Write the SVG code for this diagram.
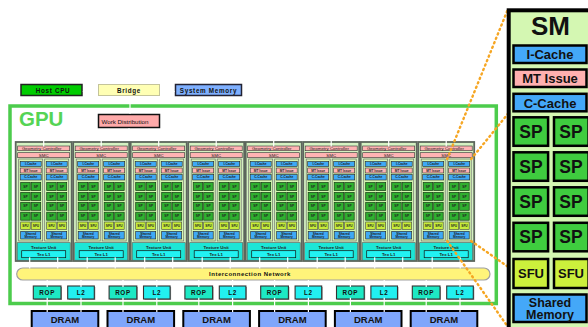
<svg xmlns="http://www.w3.org/2000/svg" xmlns:xlink="http://www.w3.org/1999/xlink" width="588" height="327" viewBox="0 0 588 327">
  <style>
    text { font-family: "Liberation Sans", Arial, sans-serif; }
    .tpc { fill: #d5f2c2; stroke: #5c665c; stroke-width: 1.8; }
    .pk { fill: #ffb3b3; stroke: #333; stroke-width: 0.6; }
    .smbg { fill: #d3f6b0; stroke: #6d6d6d; stroke-width: 0.7; }
    .bl { fill: #3fa9f5; stroke: #222; stroke-width: 0.6; }
    .sp { fill: #2fb02f; stroke: #163a16; stroke-width: 0.7; }
    .sfu { fill: #c6ec3a; stroke: #444; stroke-width: 0.6; }
    .tex { fill: #1de6d6; stroke: #555; stroke-width: 0.6; }
    .texl1 { fill: #22f2f2; stroke: #111; stroke-width: 0.7; }
    .t4 { font-size: 4.4px; text-anchor: middle; fill: #222; }
    .t3 { font-size: 3.2px; font-weight: bold; text-anchor: middle; fill: #222; }
    .tb { font-weight: bold; }
    .wire { stroke: #fff; stroke-width: 1.2; fill: none; }
    .zoomline { stroke: #f6a623; stroke-width: 2.4; stroke-linecap: round; stroke-dasharray: 1.2 3.6; fill: none; }
    .big { stroke: #000; stroke-width: 2.5; }
    .bt { font-weight: bold; text-anchor: middle; fill: #111; }
    .rop { fill: #1de9c4; stroke: #333; stroke-width: 1.1; }
    .l2 { fill: #22f0f0; stroke: #333; stroke-width: 1.1; }
    .shadow { fill: #9a9a9a; }
    .dram { fill: #7fa6fb; stroke: #000; stroke-width: 2; }
    .small { font-size: 6.3px; font-weight: bold; text-anchor: middle; letter-spacing: 0.7px; fill: #111; }
  </style>
  <defs>
    <!-- one streaming multiprocessor, miniature -->
    <g id="sm-mini">
      <rect class="smbg" x="0" y="0" width="24" height="82"/>
      <rect class="bl" x="1.5" y="2.5" width="21" height="5"/>
      <text class="t3" x="12" y="6.1">I-Cache</text>
      <rect class="pk" x="1.5" y="9" width="21" height="5"/>
      <text class="t3" x="12" y="12.6">MT Issue</text>
      <rect class="bl" x="1.5" y="15.5" width="21" height="5.5"/>
      <text class="t3" x="12" y="19.3">C-Cache</text>
      <rect class="sp" x="2" y="23.5" width="9.5" height="8"/>
      <rect class="sp" x="12.5" y="23.5" width="9.5" height="8"/>
      <rect class="sp" x="2" y="33.4" width="9.5" height="8"/>
      <rect class="sp" x="12.5" y="33.4" width="9.5" height="8"/>
      <rect class="sp" x="2" y="43.3" width="9.5" height="8"/>
      <rect class="sp" x="12.5" y="43.3" width="9.5" height="8"/>
      <rect class="sp" x="2" y="53.2" width="9.5" height="8"/>
      <rect class="sp" x="12.5" y="53.2" width="9.5" height="8"/>
      <text class="t3" x="6.75" y="28.6">SP</text>
      <text class="t3" x="17.25" y="28.6">SP</text>
      <text class="t3" x="6.75" y="38.5">SP</text>
      <text class="t3" x="17.25" y="38.5">SP</text>
      <text class="t3" x="6.75" y="48.4">SP</text>
      <text class="t3" x="17.25" y="48.4">SP</text>
      <text class="t3" x="6.75" y="58.3">SP</text>
      <text class="t3" x="17.25" y="58.3">SP</text>
      <rect class="sfu" x="2" y="63" width="9.5" height="7.5"/>
      <rect class="sfu" x="12.5" y="63" width="9.5" height="7.5"/>
      <text class="t3" x="6.75" y="67.8">SFU</text>
      <text class="t3" x="17.25" y="67.8">SFU</text>
      <rect class="bl" x="2" y="72.3" width="20" height="7.7"/>
      <text class="t3" x="12" y="75.8">Shared</text>
      <text class="t3" x="12" y="78.9">Memory</text>
    </g>
    <!-- texture/processor cluster -->
    <g id="tpc-block">
      <rect class="tpc" x="0" y="0" width="56" height="119"/>
      <rect class="pk" x="2" y="4" width="52" height="4.7"/>
      <text class="t4" x="26" y="7.8">Geometry Controller</text>
      <rect class="pk" x="2" y="10.7" width="52" height="5"/>
      <text class="t4" x="28" y="14.6">SMC</text>
      <use xlink:href="#sm-mini" x="3" y="17"/>
      <use xlink:href="#sm-mini" x="29" y="17"/>
      <rect class="tex" x="1.5" y="100.7" width="53" height="17.5"/>
      <text class="t4 tb" x="28" y="106.6">Texture Unit</text>
      <rect class="texl1" x="6" y="108.7" width="44" height="7"/>
      <text class="t4 tb" x="28" y="113.6">Tex L1</text>
    </g>
  </defs>

  <rect x="0" y="0" width="588" height="327" fill="#fff"/>

  <!-- host side -->
  <g id="host-cpu">
    <rect x="21" y="84.5" width="61" height="11" fill="#00cc00" stroke="#222" stroke-width="1.5"/>
    <text class="small" x="53" y="92.7">Host CPU</text>
  </g>
  <g id="bridge">
    <rect x="98.5" y="84.5" width="61" height="11" fill="#ffffb4" stroke="#c4c49a" stroke-width="1"/>
    <text class="small" x="129" y="92.7">Bridge</text>
  </g>
  <g id="system-memory">
    <rect x="175.5" y="84.5" width="66" height="11" fill="#7fb0ff" stroke="#223" stroke-width="1.5"/>
    <text class="small" x="208.5" y="92.7">System Memory</text>
  </g>

  <!-- GPU frame -->
  <g id="gpu">
    <rect x="10" y="106" width="486.3" height="197.5" fill="none" stroke="#4ccc4c" stroke-width="3.5"/>
    <text x="19" y="125.5" font-size="20.5" font-weight="bold" fill="#55d455">GPU</text>
  </g>

  <g id="work-distribution">
    <rect x="98.5" y="114.5" width="61" height="13" fill="#ffaaaa" stroke="#111" stroke-width="1.5"/>
    <text x="101.5" y="124.2" font-size="6.2" fill="#111">Work Distribution</text>
  </g>

  <!-- eight clusters -->
  <g id="tpc1"><use xlink:href="#tpc-block" x="15.7" y="142"/></g>
  <g id="tpc2"><use xlink:href="#tpc-block" x="73.2" y="142"/></g>
  <g id="tpc3"><use xlink:href="#tpc-block" x="130.7" y="142"/></g>
  <g id="tpc4"><use xlink:href="#tpc-block" x="188.2" y="142"/></g>
  <g id="tpc5"><use xlink:href="#tpc-block" x="245.7" y="142"/></g>
  <g id="tpc6"><use xlink:href="#tpc-block" x="303.2" y="142"/></g>
  <g id="tpc7"><use xlink:href="#tpc-block" x="360.7" y="142"/></g>
  <g id="tpc8"><use xlink:href="#tpc-block" x="418.2" y="142"/></g>

  <g id="interconnect">
    <rect x="16.7" y="268" width="473.3" height="12" rx="6" fill="#fff47a" stroke="#a0a0a0" stroke-width="1.2"/>
    <text x="250" y="276.3" font-size="6" font-weight="bold" text-anchor="middle" letter-spacing="0.5" fill="#111">Interconnection Network</text>
  </g>

  <!-- memory partitions -->
  <g id="partition1">
    <rect class="shadow" x="34.3" y="287" width="27.7" height="13"/><rect class="rop" x="33.3" y="286" width="27.7" height="13"/>
    <text class="small" x="47.2" y="294.8">ROP</text>
    <rect class="shadow" x="68.7" y="287" width="26.6" height="13"/><rect class="l2" x="67.7" y="286" width="26.6" height="13"/>
    <text class="small" x="81" y="294.8">L2</text>
  </g>
  <g id="partition2">
    <rect class="shadow" x="110.1" y="287" width="27.7" height="13"/><rect class="rop" x="109.1" y="286" width="27.7" height="13"/>
    <text class="small" x="123" y="294.8">ROP</text>
    <rect class="shadow" x="144.5" y="287" width="26.6" height="13"/><rect class="l2" x="143.5" y="286" width="26.6" height="13"/>
    <text class="small" x="156.8" y="294.8">L2</text>
  </g>
  <g id="partition3">
    <rect class="shadow" x="185.9" y="287" width="27.7" height="13"/><rect class="rop" x="184.9" y="286" width="27.7" height="13"/>
    <text class="small" x="198.8" y="294.8">ROP</text>
    <rect class="shadow" x="220.3" y="287" width="26.6" height="13"/><rect class="l2" x="219.3" y="286" width="26.6" height="13"/>
    <text class="small" x="232.6" y="294.8">L2</text>
  </g>
  <g id="partition4">
    <rect class="shadow" x="261.7" y="287" width="27.7" height="13"/><rect class="rop" x="260.7" y="286" width="27.7" height="13"/>
    <text class="small" x="274.6" y="294.8">ROP</text>
    <rect class="shadow" x="296.1" y="287" width="26.6" height="13"/><rect class="l2" x="295.1" y="286" width="26.6" height="13"/>
    <text class="small" x="308.4" y="294.8">L2</text>
  </g>
  <g id="partition5">
    <rect class="shadow" x="337.5" y="287" width="27.7" height="13"/><rect class="rop" x="336.5" y="286" width="27.7" height="13"/>
    <text class="small" x="350.4" y="294.8">ROP</text>
    <rect class="shadow" x="371.9" y="287" width="26.6" height="13"/><rect class="l2" x="370.9" y="286" width="26.6" height="13"/>
    <text class="small" x="384.2" y="294.8">L2</text>
  </g>
  <g id="partition6">
    <rect class="shadow" x="413.3" y="287" width="27.7" height="13"/><rect class="rop" x="412.3" y="286" width="27.7" height="13"/>
    <text class="small" x="426.2" y="294.8">ROP</text>
    <rect class="shadow" x="447.7" y="287" width="26.6" height="13"/><rect class="l2" x="446.7" y="286" width="26.6" height="13"/>
    <text class="small" x="460" y="294.8">L2</text>
  </g>

  <g id="dram1"><rect class="dram" x="31.7" y="311" width="66.6" height="20"/><text class="bt" x="65" y="322.5" font-size="9.5">DRAM</text></g>
  <g id="dram2"><rect class="dram" x="107.5" y="311" width="66.6" height="20"/><text class="bt" x="140.8" y="322.5" font-size="9.5">DRAM</text></g>
  <g id="dram3"><rect class="dram" x="183.3" y="311" width="66.6" height="20"/><text class="bt" x="216.6" y="322.5" font-size="9.5">DRAM</text></g>
  <g id="dram4"><rect class="dram" x="259.1" y="311" width="66.6" height="20"/><text class="bt" x="292.4" y="322.5" font-size="9.5">DRAM</text></g>
  <g id="dram5"><rect class="dram" x="334.9" y="311" width="66.6" height="20"/><text class="bt" x="368.2" y="322.5" font-size="9.5">DRAM</text></g>
  <g id="dram6"><rect class="dram" x="410.7" y="311" width="66.6" height="20"/><text class="bt" x="444" y="322.5" font-size="9.5">DRAM</text></g>

  <!-- white data paths -->
  <g id="connectors">
    <path class="wire" d="M82.8 91.5 H97.7 M160.3 91.5 H174.7 M130 96.2 V113.8"/>
    <path class="wire" d="M129 128.3 V136 M43.7 136 H446.2"/>
    <path class="wire" d="M43.7 136 V146.5 M101.2 136 V146.5 M158.7 136 V146.5 M216.2 136 V146.5 M273.7 136 V146.5 M331.2 136 V146.5 M388.7 136 V146.5 M446.2 136 V146.5"/>
    <path class="wire" d="M29.7 257.3 V268.5 M57.7 257.3 V268.5 M87.2 257.3 V268.5 M115.2 257.3 V268.5 M144.7 257.3 V268.5 M172.7 257.3 V268.5 M202.2 257.3 V268.5 M230.2 257.3 V268.5 M259.7 257.3 V268.5 M287.7 257.3 V268.5 M317.2 257.3 V268.5 M345.2 257.3 V268.5 M374.7 257.3 V268.5 M402.7 257.3 V268.5 M432.2 257.3 V268.5 M460.2 257.3 V268.5"/>
    <path class="wire" d="M47.2 280 V287 M81 280 V287 M123 280 V287 M156.8 280 V287 M198.8 280 V287 M232.6 280 V287 M274.6 280 V287 M308.4 280 V287 M350.4 280 V287 M384.2 280 V287 M426.2 280 V287 M460 280 V287"/>
    <path class="wire" d="M47.2 297.8 V312 M81 297.8 V312 M123 297.8 V312 M156.8 297.8 V312 M198.8 297.8 V312 M232.6 297.8 V312 M274.6 297.8 V312 M308.4 297.8 V312 M350.4 297.8 V312 M384.2 297.8 V312 M426.2 297.8 V312 M460 297.8 V312"/>
    <!-- zoom guides to the enlarged multiprocessor -->
    <path class="zoomline" d="M447.2 159 L508 9 M471.2 159 L594 8 M471.2 241 L594 327 M447.2 241 L508 327"/>
  </g>

  <!-- enlarged streaming multiprocessor -->
  <g id="sm-detail">
    <rect x="508.7" y="10.3" width="100" height="330" fill="#d4f7b2" stroke="#000" stroke-width="4"/>
    <text class="bt" x="550.5" y="35" font-size="26" fill="#000">SM</text>
    <rect class="big" x="513.5" y="45.5" width="73" height="17.5" fill="#44a8f8"/>
    <text class="bt" x="550" y="59.2" font-size="13">I-Cache</text>
    <rect class="big" x="513.5" y="69.5" width="73" height="17.5" fill="#ffb0b0"/>
    <text class="bt" x="550" y="83.2" font-size="13">MT Issue</text>
    <rect class="big" x="513.5" y="93.8" width="73" height="17.5" fill="#44a8f8"/>
    <text class="bt" x="550" y="107.5" font-size="13">C-Cache</text>
    <rect class="big" x="513.5" y="117.3" width="34.6" height="28.5" fill="#3fcc3f"/>
    <rect class="big" x="554" y="117.3" width="34.6" height="28.5" fill="#3fcc3f"/>
    <rect class="big" x="513.5" y="152.3" width="34.6" height="28.5" fill="#3fcc3f"/>
    <rect class="big" x="554" y="152.3" width="34.6" height="28.5" fill="#3fcc3f"/>
    <rect class="big" x="513.5" y="187.3" width="34.6" height="28.5" fill="#3fcc3f"/>
    <rect class="big" x="554" y="187.3" width="34.6" height="28.5" fill="#3fcc3f"/>
    <rect class="big" x="513.5" y="222.8" width="34.6" height="28.5" fill="#3fcc3f"/>
    <rect class="big" x="554" y="222.8" width="34.6" height="28.5" fill="#3fcc3f"/>
    <text class="bt" x="531" y="137.8" font-size="17.5">SP</text>
    <text class="bt" x="571" y="137.8" font-size="17.5">SP</text>
    <text class="bt" x="531" y="172.8" font-size="17.5">SP</text>
    <text class="bt" x="571" y="172.8" font-size="17.5">SP</text>
    <text class="bt" x="531" y="207.8" font-size="17.5">SP</text>
    <text class="bt" x="571" y="207.8" font-size="17.5">SP</text>
    <text class="bt" x="531" y="243.3" font-size="17.5">SP</text>
    <text class="bt" x="571" y="243.3" font-size="17.5">SP</text>
    <rect class="big" x="513.5" y="259" width="34.6" height="29" fill="#ccf03c"/>
    <rect class="big" x="554" y="259" width="34.6" height="29" fill="#ccf03c"/>
    <text class="bt" x="531" y="278.2" font-size="13">SFU</text>
    <text class="bt" x="571" y="278.2" font-size="13">SFU</text>
    <rect class="big" x="513.5" y="294.5" width="73" height="27.5" fill="#44a8f8"/>
    <text class="bt" x="550" y="306.7" font-size="12.5">Shared</text>
    <text class="bt" x="550" y="319.2" font-size="12.5">Memory</text>
  </g>
</svg>
